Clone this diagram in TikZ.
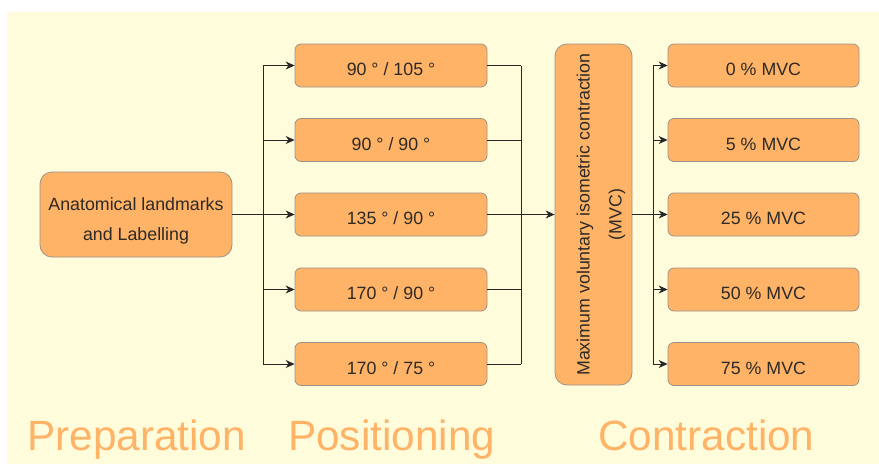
\documentclass[tikz,border=0pt]{standalone}
\usepackage{fontspec}
\setmainfont{Liberation Sans}
\usetikzlibrary{arrows.meta}
\definecolor{bgyellow}{HTML}{FEFCDB}
\definecolor{boxfill}{HTML}{FFB366}
\definecolor{boxline}{HTML}{9C9288}
\definecolor{txt}{HTML}{2E2A26}
\definecolor{lbl}{HTML}{FFB366}
\tikzset{
  box/.style={draw=boxline, line width=0.8pt, fill=boxfill, rounded corners=6pt,
    text=txt, font=\fontsize{17.8}{30}\selectfont, inner sep=0pt, align=center},
  smallbox/.style={box, minimum height=43pt, text height=20pt, text depth=0pt},
  conn/.style={draw=black!85, line width=0.9pt},
  arr/.style={conn, -{Stealth[length=9pt,width=8pt]}},
  phase/.style={text=lbl, font=\fontsize{42.3}{46}\selectfont, anchor=base west, inner sep=0pt}
}
\begin{document}
\begin{tikzpicture}[x=1pt,y=-1pt]
\useasboundingbox (0,0) rectangle (879,464);
\fill[white] (0,0) rectangle (879,464);
\fill[bgyellow] (7,12) rectangle (879,464);

\node[box, rounded corners=12pt, minimum width=192pt, minimum height=85pt] (prep) at (136,214.5) {};
\node[text=txt, font=\fontsize{17.8}{30}\selectfont, align=center, inner sep=0pt, anchor=base] (prept) at (136,240)
  {Anatomical landmarks\\and Labelling};

\foreach \n/\y/\t in {p1/65.5/{90 ° / 105 °}, p2/140/{90 ° / 90 °}, p3/214.5/{135 ° / 90 °}, p4/289.5/{170 ° / 90 °}, p5/364/{170 ° / 75 °}}
  \node[smallbox, minimum width=192pt] (\n) at (391,\y) {\t};

\node[box, rounded corners=12pt, minimum width=77pt, minimum height=341pt] (mvc) at (593.5,214.5) {};
\node[text=txt, font=\fontsize{17.8}{32}\selectfont, rotate=90, align=center, inner sep=0pt] (mvct) at (601,214.5)
  {Maximum voluntary isometric contraction\\(MVC)};

\foreach \n/\y/\t in {c1/65.5/{0 \% MVC}, c2/140/{5 \% MVC}, c3/214.5/{25 \% MVC}, c4/289.5/{50 \% MVC}, c5/364/{75 \% MVC}}
  \node[smallbox, minimum width=191pt] (\n) at (763.5,\y) {\t};

% fork from preparation
\coordinate (fa) at (263,65.5);
\coordinate (fb) at (263,364);
\draw[conn] (prep.east) -- (p3.west -| fa);
\draw[conn] (fa) -- (fb);
\foreach \n in {p1,p2,p3,p4,p5}
  \draw[arr] (\n.west -| fa) -- (\n.west);

% merge into MVC
\coordinate (ma) at (521,65.5);
\coordinate (mb) at (521,364);
\draw[conn] (ma) -- (mb);
\foreach \n in {p1,p2,p4,p5}
  \draw[conn] (\n.east) -- (\n.east -| ma);
\draw[arr] (p3.east) -- (p3.east -| mvc.west);

% fork to contraction levels
\coordinate (ca) at (653,65.5);
\coordinate (cb) at (653,364);
\draw[conn] (mvc.east |- p3) -- (c3.west -| ca);
\draw[conn] (ca) -- (cb);
\foreach \n in {c1,c2,c3,c4,c5}
  \draw[arr] (\n.west -| ca) -- (\n.west);

\node[phase] (lprep) at (27,450) {Preparation};
\node[phase] (lpos) at (288,450) {Positioning};
\node[phase] (lcon) at (598,450) {Contraction};
\end{tikzpicture}
\end{document}
